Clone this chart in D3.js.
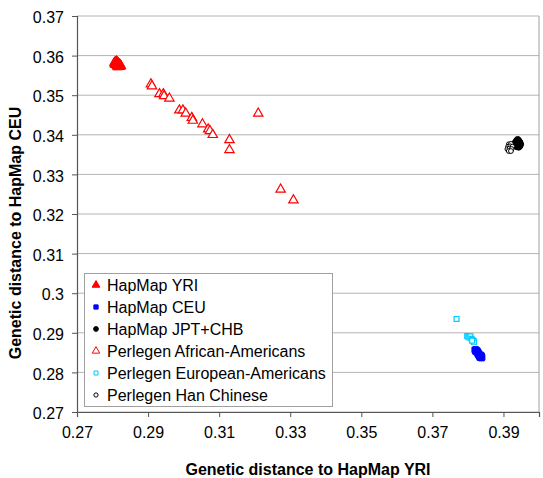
<!DOCTYPE html>
<html><head><meta charset="utf-8">
<script src="https://cdn.jsdelivr.net/npm/d3@7"></script>
<style>
html,body{margin:0;padding:0;background:#fff;}
text{font-family:"Liberation Sans",Arial,sans-serif;}
</style></head>
<body><svg id="c" width="543" height="478"></svg>
<script>
const xTicks = [0.27,0.29,0.31,0.33,0.35,0.37,0.39];
const yTicks = [0.27,0.28,0.29,0.30,0.31,0.32,0.33,0.34,0.35,0.36,0.37];
const yTickLabels = ["0.27","0.28","0.29","0.3","0.31","0.32","0.33","0.34","0.35","0.36","0.37"];

const hapmapYRI = [[0.2805,0.3582],[0.2808,0.3585],[0.2811,0.3586],[0.2814,0.3584],[0.2810,0.3580],[0.2813,0.3578],[0.2816,0.3581],[0.2818,0.3577],[0.2807,0.3577],[0.2812,0.3574],[0.2815,0.3575],[0.2819,0.3574],[0.2821,0.3576],[0.2817,0.3572],[0.2822,0.3572],[0.2809,0.3583],[0.2806,0.3579],[0.2820,0.3579],[0.2814,0.3571],[0.2824,0.3574]];
const hapmapCEU = [[0.3819,0.2857],[0.3822,0.2858],[0.3825,0.2856],[0.3821,0.2853],[0.3824,0.2852],[0.3827,0.2854],[0.3829,0.2851],[0.3826,0.2849],[0.3831,0.2848],[0.3828,0.2846],[0.3833,0.2845],[0.3830,0.2843],[0.3835,0.2842],[0.3837,0.2844],[0.3832,0.2840],[0.3836,0.2839],[0.3839,0.2841],[0.3840,0.2838],[0.3834,0.2837],[0.3838,0.2836]];
const hapmapJPTCHB = [[0.3940,0.3388],[0.3937,0.3385],[0.3943,0.3385],[0.3934,0.3381],[0.3940,0.3381],[0.3946,0.3381],[0.3932,0.3377],[0.3938,0.3377],[0.3944,0.3378],[0.3948,0.3376],[0.3935,0.3373],[0.3941,0.3373],[0.3946,0.3372],[0.3938,0.3370],[0.3943,0.3369]];
const perlegenAA = [[0.2908,0.3528],[0.2911,0.3523],[0.2932,0.3503],[0.2943,0.3503],[0.2945,0.3498],[0.2960,0.3492],[0.2988,0.3462],[0.2998,0.3462],[0.3006,0.3454],[0.3023,0.3443],[0.3026,0.3436],[0.3053,0.3427],[0.3069,0.3414],[0.3074,0.3410],[0.3082,0.3400],[0.3129,0.3387],[0.3129,0.3362],[0.3210,0.3454],[0.3273,0.3262],[0.3309,0.3235]];
const perlegenEA = [[0.3768,0.2935],[0.3798,0.2892],[0.3801,0.2890],[0.3804,0.2888],[0.3807,0.2891],[0.3810,0.2885],[0.3813,0.2882],[0.3816,0.2879],[0.3817,0.2876],[0.3812,0.2880]];
const perlegenHan = [[0.3915,0.3376],[0.3921,0.3377],[0.3913,0.3370],[0.3919,0.3371],[0.3925,0.3370],[0.3911,0.3364],[0.3917,0.3365],[0.3923,0.3364],[0.3915,0.3359],[0.3921,0.3359]];

const seriesNames = ["HapMap YRI","HapMap CEU","HapMap JPT+CHB","Perlegen African-Americans","Perlegen European-Americans","Perlegen Han Chinese"];

const svg = d3.select("#c");
const L = 77, R = 539, T = 16, B = 412;
const x = d3.scaleLinear().domain([0.27,0.40]).range([L,R]);
const y = d3.scaleLinear().domain([0.27,0.37]).range([B,T]);

// gridlines
svg.append("g").selectAll("line").data(yTicks).join("line")
  .attr("x1",L).attr("x2",R).attr("y1",d=>y(d)).attr("y2",d=>y(d))
  .attr("stroke","#b4b4b4").attr("stroke-width",1);
// right border
svg.append("line").attr("x1",R).attr("x2",R).attr("y1",T).attr("y2",B).attr("stroke","#a0a0a0");

// axes
const yAxis = d3.axisLeft(y).tickValues(yTicks).tickFormat((d,i)=>yTickLabels[i]).tickSize(5).tickPadding(8);
const gy = svg.append("g").attr("transform",`translate(${L},0)`).call(yAxis);
const xAxis = d3.axisBottom(x).tickValues(xTicks).tickFormat(d3.format(".2f")).tickSize(5).tickPadding(10);
const gx = svg.append("g").attr("transform",`translate(0,${B})`).call(xAxis);
[gx,gy].forEach(g=>{
  g.select(".domain").attr("stroke","#555").attr("stroke-width",1.2);
  g.selectAll(".tick line").attr("stroke","#555");
  g.selectAll("text").attr("font-size",16).attr("fill","#000").attr("font-family",'"Liberation Sans",Arial,sans-serif');
});
gy.selectAll("text").attr("dy","0.42em");

svg.append("text").attr("x",(L+R)/2).attr("y",475).attr("text-anchor","middle")
  .attr("font-size",16).attr("font-weight","bold").text("Genetic distance to HapMap YRI");
svg.append("text").attr("transform","translate(21,233) rotate(-90)").attr("text-anchor","middle")
  .attr("font-size",16).attr("font-weight","bold").text("Genetic distance to HapMap CEU");

const tri = d3.symbol().type(d3.symbolTriangle);
const g = svg.append("g");
function plot(data, type, size, fill, stroke, sw){
  g.append("g").selectAll("path").data(data).join("path")
    .attr("transform",d=>`translate(${x(d[0])},${y(d[1])})`)
    .attr("d",d3.symbol().type(type).size(size)())
    .attr("fill",fill).attr("stroke",stroke).attr("stroke-width",sw);
}
plot(perlegenAA, d3.symbolTriangle, 38, "#fff", "#ff0000", 1.2);
plot(hapmapYRI, d3.symbolTriangle, 40, "#ff0000", "#ff0000", 1);
plot(hapmapCEU, d3.symbolSquare, 30, "#0000ff", "#0000ff", 1);
plot(perlegenEA, d3.symbolSquare, 24, "#fff", "#00ccff", 1.2);
plot(hapmapJPTCHB, d3.symbolCircle, 30, "#000", "#000", 1);
plot(perlegenHan, d3.symbolCircle, 18, "#fff", "#000", 1);

// legend
const lg = svg.append("g");
lg.append("rect").attr("x",84.5).attr("y",273.5).attr("width",248).attr("height",133)
  .attr("fill","#fff").attr("stroke","#a0a0a0");
const legendMarks = [
  {type:d3.symbolTriangle,size:26,fill:"#ff0000",stroke:"#ff0000"},
  {type:d3.symbolSquare,size:18,fill:"#0000ff",stroke:"#0000ff"},
  {type:d3.symbolCircle,size:18,fill:"#000",stroke:"#000"},
  {type:d3.symbolTriangle,size:24,fill:"#fff",stroke:"#ff0000"},
  {type:d3.symbolSquare,size:16,fill:"#fff",stroke:"#00ccff"},
  {type:d3.symbolCircle,size:14,fill:"#fff",stroke:"#000"}
];
seriesNames.forEach((n,i)=>{
  const cy = 285 + i*22;
  lg.append("path").attr("transform",`translate(96,${cy})`)
    .attr("d",d3.symbol().type(legendMarks[i].type).size(legendMarks[i].size)())
    .attr("fill",legendMarks[i].fill).attr("stroke",legendMarks[i].stroke).attr("stroke-width",1);
  lg.append("text").attr("x",107).attr("y",cy).attr("dy","0.36em").attr("font-size",16).text(n);
});
</script></body></html>
